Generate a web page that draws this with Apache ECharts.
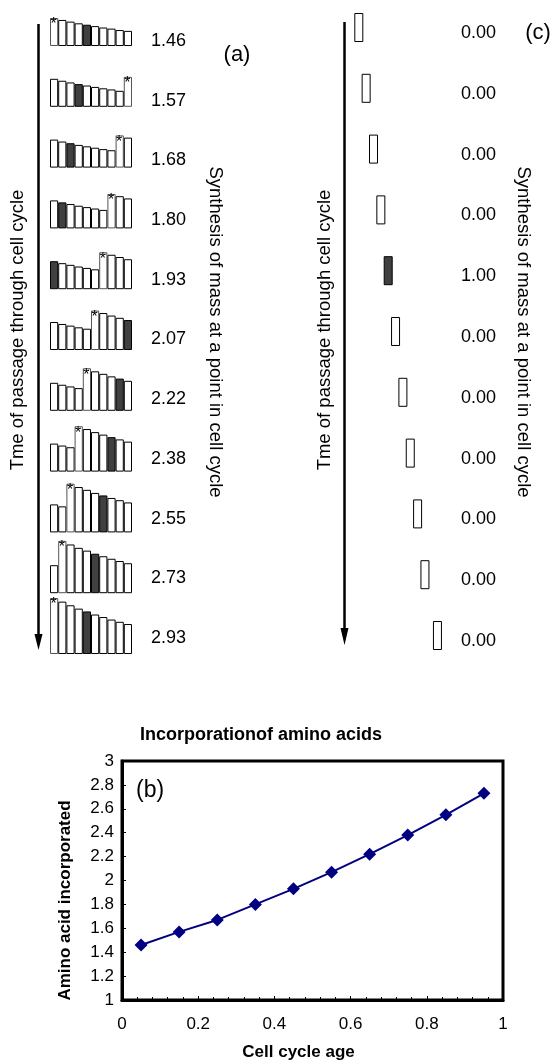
<!DOCTYPE html>
<html><head><meta charset="utf-8">
<script src="https://cdn.jsdelivr.net/npm/echarts@6/dist/echarts.min.js"></script>
<style>html,body{margin:0;padding:0;background:#fff}#c{width:557px;height:1062px}</style>
</head><body><div id="c"></div>
<script>
// ---- Panel (a): mass in each of 10 age cohorts, 11 time steps ----
const rowSums = [1.46, 1.57, 1.68, 1.80, 1.93, 2.07, 2.22, 2.38, 2.55, 2.73, 2.93];
const row0  = [1.00, 0.93, 0.87, 0.81, 0.76, 0.71, 0.66, 0.62, 0.57, 0.54];
const row1  = [1.00, 0.93, 0.87, 0.81, 0.76, 0.71, 0.66, 0.62, 0.57, 1.07];
const row2  = [1.00, 0.93, 0.87, 0.81, 0.76, 0.71, 0.66, 0.62, 1.15, 1.07];
const row3  = [1.00, 0.93, 0.87, 0.81, 0.76, 0.71, 0.66, 1.23, 1.15, 1.07];
const row4  = [1.00, 0.93, 0.87, 0.81, 0.76, 0.71, 1.32, 1.23, 1.15, 1.07];
const row5  = [1.00, 0.93, 0.87, 0.81, 0.76, 1.41, 1.32, 1.23, 1.15, 1.07];
const row6  = [1.00, 0.93, 0.87, 0.81, 1.52, 1.41, 1.32, 1.23, 1.15, 1.07];
const row7  = [1.00, 0.93, 0.87, 1.62, 1.52, 1.41, 1.32, 1.23, 1.15, 1.07];
const row8  = [1.00, 0.93, 1.74, 1.62, 1.52, 1.41, 1.32, 1.23, 1.15, 1.07];
const row9  = [1.00, 1.87, 1.74, 1.62, 1.52, 1.41, 1.32, 1.23, 1.15, 1.07];
const row10 = [2.00, 1.87, 1.74, 1.62, 1.52, 1.41, 1.32, 1.23, 1.15, 1.07];
const massRows = [row0, row1, row2, row3, row4, row5, row6, row7, row8, row9, row10];
const starPos = [0, 9, 8, 7, 6, 5, 4, 3, 2, 1, 0];   // newborn cohort (*)
const darkPos = [4, 3, 2, 1, 0, 9, 8, 7, 6, 5, 4];   // highlighted cohort
const cohorts = ['1','2','3','4','5','6','7','8','9','10'];

// ---- Panel (c): synthesis at a single point ----
const pointSynthesis = [0, 0, 0, 0, 1, 0, 0, 0, 0, 0, 0];
const pointPos = [0, 1, 2, 3, 4, 5, 6, 7, 8, 9, 10.7];
const pointHeight = [1, 1, 1, 1, 1, 1, 1, 1, 1, 1, 1];

// ---- Panel (b): incorporation of amino acids ----
const cellAge = [0.05, 0.15, 0.25, 0.35, 0.45, 0.55, 0.65, 0.75, 0.85, 0.95];
const aminoIncorporated = [1.46, 1.57, 1.67, 1.80, 1.93, 2.07, 2.22, 2.38, 2.55, 2.73];

const FONT = 'Liberation Sans, Arial, sans-serif';
const H = 1062;
const grid = [], xAxis = [], yAxis = [], series = [];
const rowStep = 60.8;

// panel (a): 28 px per unit of mass
massRows.forEach((vals, i) => {
  const base = 46 + rowStep * i;
  const h = Math.min(61.6, base - 2);
  const g = grid.length;
  grid.push({left: 50, width: 82, top: base - h, height: h});
  xAxis.push({type: 'category', gridIndex: g, data: cohorts, show: false});
  yAxis.push({type: 'value', gridIndex: g, min: 0, max: h / 28, show: false});
  series.push({
    type: 'bar', xAxisIndex: g, yAxisIndex: g, barCategoryGap: '0%',
    itemStyle: {color: '#fff', borderColor: '#000', borderWidth: 1},
    data: vals.map((v, p) => {
      const d = {value: v};
      if (p === darkPos[i]) d.itemStyle = {color: '#404040', borderColor: '#000'};
      if (p === starPos[i]) {
        d.itemStyle = {color: '#fff', borderColor: '#555'};
        d.label = {show: true, formatter: '*', position: [0.5, -1],
          fontSize: 16, color: '#000', fontFamily: FONT};
      }
      return d;
    })
  });
});

// panel (c): 29 px per unit
pointSynthesis.forEach((v, i) => {
  const base = 42 + rowStep * i;
  const h = Math.min(58, base - 2);
  const g = grid.length;
  grid.push({left: 351.45, width: 88.2, top: base - h, height: h});
  xAxis.push({type: 'value', gridIndex: g, min: -1, max: 11, show: false});
  yAxis.push({type: 'value', gridIndex: g, min: 0, max: h / 29, show: false});
  series.push({
    type: 'bar', xAxisIndex: g, yAxisIndex: g, barWidth: 9,
    itemStyle: {color: v >= 1 ? '#404040' : '#fff', borderColor: '#000', borderWidth: 1},
    data: [[pointPos[i], pointHeight[i]]]
  });
});

// value labels for (a)
{
  const g = grid.length;
  grid.push({left: 149, width: 1, top: 11.15, height: 656.7});
  xAxis.push({type: 'value', gridIndex: g, show: false});
  yAxis.push({type: 'category', gridIndex: g, inverse: true, position: 'right',
    data: rowSums.map(v => v.toFixed(2)),
    axisLine: {show: false}, axisTick: {show: false},
    axisLabel: {margin: 1, color: '#000', fontSize: 18, fontFamily: FONT, align: 'left'}});
}
// value labels for (c)
{
  const g = grid.length;
  grid.push({left: 459, width: 1, top: 2.6, height: 668.8});
  xAxis.push({type: 'value', gridIndex: g, show: false});
  yAxis.push({type: 'category', gridIndex: g, inverse: true, position: 'right',
    data: pointSynthesis.map(v => v.toFixed(2)),
    axisLine: {show: false}, axisTick: {show: false},
    axisLabel: {margin: 1, color: '#000', fontSize: 18, fontFamily: FONT, align: 'left'}});
}

// panel (b)
{
  const g = grid.length;
  grid.push({left: 122, right: 54, top: 761, height: 239, show: true,
    borderColor: '#000', borderWidth: 3, backgroundColor: 'transparent'});
  xAxis.push({type: 'value', gridIndex: g, min: 0, max: 1, interval: 0.2,
    name: 'Cell cycle age', nameLocation: 'middle', nameGap: 44,
    nameTextStyle: {fontWeight: 'bold', fontSize: 17, color: '#000', fontFamily: FONT, padding: [0, 28, 0, 0]},
    axisLine: {show: true, lineStyle: {color: '#000', width: 3}},
    axisTick: {show: true, inside: true, length: 4, lineStyle: {color: '#000'}},
    minorTick: {show: true, splitNumber: 5, length: 3, lineStyle: {color: '#000'}},
    splitLine: {show: false},
    axisLabel: {color: '#000', fontSize: 17, margin: 16, fontFamily: FONT}});
  yAxis.push({type: 'value', gridIndex: g, min: 1, max: 3, interval: 0.2,
    name: 'Amino acid incorporated', nameLocation: 'middle', nameGap: 48,
    nameTextStyle: {fontWeight: 'bold', fontSize: 17, color: '#000', fontFamily: FONT, padding: [0, 40, 0, 0]},
    axisLine: {show: true, lineStyle: {color: '#000', width: 3}},
    axisTick: {show: true, inside: true, length: 4, lineStyle: {color: '#000'}},
    splitLine: {show: false},
    axisLabel: {color: '#000', fontSize: 17, margin: 8, fontFamily: FONT,
      formatter: v => String(Math.round(v * 10) / 10)}});
  series.push({type: 'line', xAxisIndex: g, yAxisIndex: g,
    data: cellAge.map((x, k) => [x, aminoIncorporated[k]]),
    lineStyle: {color: '#000080', width: 2},
    itemStyle: {color: '#000080'},
    symbol: 'diamond', symbolSize: 13});
}

const rot = (x, y, text, r) => ({type: 'text', x, y, rotation: r,
  style: {text, fill: '#000', font: '18.5px ' + FONT, align: 'center', verticalAlign: 'middle'}});

const graphic = [
  // arrows
  {type: 'line', shape: {x1: 38.5, y1: 24, x2: 38.5, y2: 636}, style: {stroke: '#000', lineWidth: 2.5}},
  {type: 'polygon', shape: {points: [[34.5, 634], [42.5, 634], [38.5, 650]]}, style: {fill: '#000'}},
  {type: 'line', shape: {x1: 344.5, y1: 22, x2: 344.5, y2: 630}, style: {stroke: '#000', lineWidth: 2.5}},
  {type: 'polygon', shape: {points: [[340.5, 628], [348.5, 628], [344.5, 645]]}, style: {fill: '#000'}},
  rot(18, 330, 'Tme of passage through cell cycle', Math.PI / 2),
  rot(215, 332, 'Synthesis of mass at a point in cell cycle', -Math.PI / 2),
  rot(325, 330, 'Tme of passage through cell cycle', Math.PI / 2),
  rot(523, 332, 'Synthesis of mass at a point in cell cycle', -Math.PI / 2),
  {type: 'text', x: 237, y: 55, style: {text: '(a)', fill: '#000', font: '22px ' + FONT, align: 'center', verticalAlign: 'middle'}},
  {type: 'text', x: 538, y: 33, style: {text: '(c)', fill: '#000', font: '22px ' + FONT, align: 'center', verticalAlign: 'middle'}},
  {type: 'text', x: 136, y: 791, style: {text: '(b)', fill: '#000', font: '23px ' + FONT, align: 'left', verticalAlign: 'middle'}},
  {type: 'text', x: 261, y: 735, style: {text: 'Incorporationof amino acids', fill: '#000', font: 'bold 18px ' + FONT, align: 'center', verticalAlign: 'middle'}}
];

const chart = echarts.init(document.getElementById('c'), null, {renderer: 'canvas'});
chart.setOption({animation: false, backgroundColor: '#fff', grid, xAxis, yAxis, series, graphic});
</script></body></html>
